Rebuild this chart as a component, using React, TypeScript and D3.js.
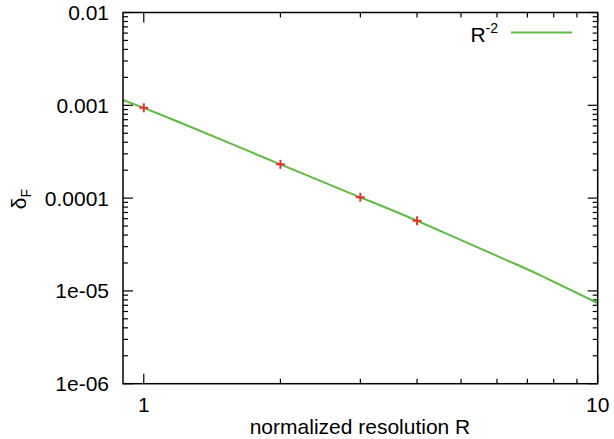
import React from 'react';
import * as d3 from 'd3';

const xDomain = [0.9, 10];
const yDomain = [1e-6, 0.01];
const xMajor = [1, 10];
const xMajorLabels = ['1', '10'];
const yMajor = [1e-6, 1e-5, 1e-4, 1e-3, 1e-2];
const yMajorLabels = ['1e-06', '1e-05', '0.0001', '0.001', '0.01'];

// measured points
const markerR = [1, 2, 3, 4];
const markerVal = [9.4e-4, 2.31e-4, 1.02e-4, 5.7e-5];

// R^-2 curve
const curveR = [0.9, 1.19, 2, 3, 4, 6.1, 7.46, 10];
const curveVal = [1.14e-3, 6.65e-4, 2.31e-4, 1.02e-4, 5.7e-5, 2.3e-5, 1.48e-5, 7.41e-6];

const W = 614;
const H = 439;
const m = { left: 123, right: 16.3, top: 12.5, bottom: 55.3 };
const font = '"Liberation Sans", Arial, sans-serif';
const green = '#5fb946';
const red = '#e8322d';
const fs = 21;

export default function App() {
  const x = d3.scaleLog().domain(xDomain).range([m.left, W - m.right]);
  const y = d3.scaleLog().domain(yDomain).range([H - m.bottom, m.top]);
  const x0 = m.left, x1 = W - m.right, y0 = H - m.bottom, y1 = m.top;

  const xMinor = x.ticks().filter(t => t > xDomain[0] && !xMajor.includes(t));
  const yMinor = y.ticks().filter(t => !yMajor.some(v => Math.abs(v - t) / v < 1e-9));

  const line = d3.line<number>()
    .x((_, i) => x(curveR[i]))
    .y(d => y(d))
    .curve(d3.curveNatural);

  const tick = (key: string, xa: number, ya: number, xb: number, yb: number) => (
    <line key={key} x1={xa} y1={ya} x2={xb} y2={yb} stroke="#000" strokeWidth={1.2} />
  );

  return (
    <svg width={W} height={H} style={{ position: 'absolute', left: 0, top: 0, background: '#fff' }}>
      <defs>
        <clipPath id="plot">
          <rect x={x0} y={y1} width={x1 - x0} height={y0 - y1} />
        </clipPath>
      </defs>
      {/* ticks */}
      {yMajor.map((v, i) => [
        tick('yl' + i, x0, y(v), x0 + 10, y(v)),
        tick('yr' + i, x1, y(v), x1 - 10, y(v)),
      ])}
      {yMinor.map((v, i) => [
        tick('yml' + i, x0, y(v), x0 + 5, y(v)),
        tick('ymr' + i, x1, y(v), x1 - 5, y(v)),
      ])}
      {xMajor.map((v, i) => [
        tick('xb' + i, x(v), y0, x(v), y0 - 10),
        tick('xt' + i, x(v), y1, x(v), y1 + 10),
      ])}
      {xMinor.map((v, i) => [
        tick('xmb' + i, x(v), y0, x(v), y0 - 5),
        tick('xmt' + i, x(v), y1, x(v), y1 + 5),
      ])}
      {/* curve */}
      <path d={line(curveVal) || ''} fill="none" stroke={green} strokeWidth={2} clipPath="url(#plot)" />
      {/* markers */}
      {markerR.map((r, i) => (
        <g key={'m' + i} stroke={red} strokeWidth={2}>
          <line x1={x(r) - 4.5} x2={x(r) + 4.5} y1={y(markerVal[i])} y2={y(markerVal[i])} />
          <line x1={x(r)} x2={x(r)} y1={y(markerVal[i]) - 4.5} y2={y(markerVal[i]) + 4.5} />
        </g>
      ))}
      {/* frame */}
      <rect x={x0} y={y1} width={x1 - x0} height={y0 - y1} fill="none" stroke="#000" strokeWidth={1.5} />
      {/* tick labels */}
      {yMajor.map((v, i) => (
        <text key={'yt' + i} x={x0 - 14} y={y(v)} dy="0.36em" textAnchor="end" fontFamily={font} fontSize={fs}>
          {yMajorLabels[i]}
        </text>
      ))}
      {xMajor.map((v, i) => (
        <text key={'xtl' + i} x={x(v)} y={y0 + 28} textAnchor="middle" fontFamily={font} fontSize={fs}>
          {xMajorLabels[i]}
        </text>
      ))}
      {/* axis titles */}
      <text x={360} y={434} textAnchor="middle" fontFamily={font} fontSize={fs}>
        normalized resolution R
      </text>
      <text transform={`translate(26,199) rotate(-90)`} textAnchor="middle" fontFamily={font} fontSize={fs}>
        δ<tspan fontSize={14} dy={5}>F</tspan>
      </text>
      {/* legend */}
      <text x={498} y={42} textAnchor="end" fontFamily={font} fontSize={fs}>
        R<tspan fontSize={14} dy={-9}>-2</tspan>
      </text>
      <line x1={511} x2={572} y1={32.5} y2={32.5} stroke={green} strokeWidth={2} />
    </svg>
  );
}
